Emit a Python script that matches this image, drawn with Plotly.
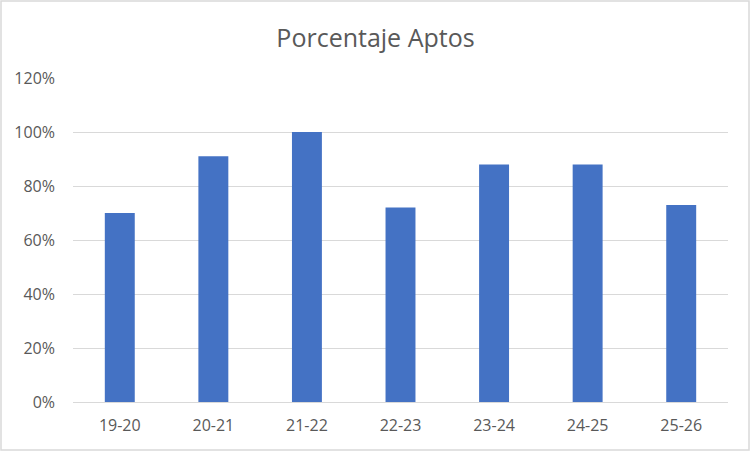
import plotly.graph_objects as go

seasons = ['19-20', '20-21', '21-22', '22-23', '23-24', '24-25', '25-26']
aptos_pct = [0.70, 0.91, 1.00, 0.72, 0.88, 0.88, 0.73]
y_ticks = [0, 0.2, 0.4, 0.6, 0.8, 1.0, 1.2]
y_tick_labels = ['0%', '20%', '40%', '60%', '80%', '100%', '120%']

W, H = 751, 452
L, R, T, B = 73, 23, 78, 50
pw, ph = W - L - R, H - T - B

fig = go.Figure()
fig.add_trace(go.Bar(x=seasons, y=aptos_pct, marker_color='#4472C4', marker_line_width=0))

# outer chart border
fig.add_shape(type='rect', xref='paper', yref='paper',
              x0=(1 - L) / pw, x1=(W - 2 - L) / pw,
              y0=(2 - B) / ph, y1=(H - 1 - B) / ph,
              line=dict(color='#D9D9D9', width=1.5), fillcolor='rgba(0,0,0,0)', layer='below')

fig.update_layout(
    width=W, height=H,
    margin=dict(l=L, r=R, t=T, b=B),
    paper_bgcolor='white', plot_bgcolor='white',
    title=dict(text='Porcentaje Aptos', x=0.5, xanchor='center', y=1 - 38 / H, yanchor='middle',
               font=dict(family='Open Sans', size=25, color='#595959')),
    font=dict(family='Open Sans', size=16, color='#595959'),
    bargap=0.68,
    showlegend=False,
)
fig.update_xaxes(showgrid=False, showline=False, ticks='', ticklabelstandoff=12,
                 tickfont=dict(size=16, color='#595959'))
fig.update_yaxes(range=[0, 1.2], tickvals=y_ticks, ticktext=y_tick_labels,
                 showgrid=True, gridcolor='#D9D9D9', gridwidth=1.3,
                 zeroline=True, zerolinecolor='#D9D9D9', zerolinewidth=1.3,
                 ticks='', ticklabelstandoff=17, tickfont=dict(size=16, color='#595959'))

fig.write_html("out.html", config={'displayModeBar': False},
               post_script="document.body.style.margin='0px';")
